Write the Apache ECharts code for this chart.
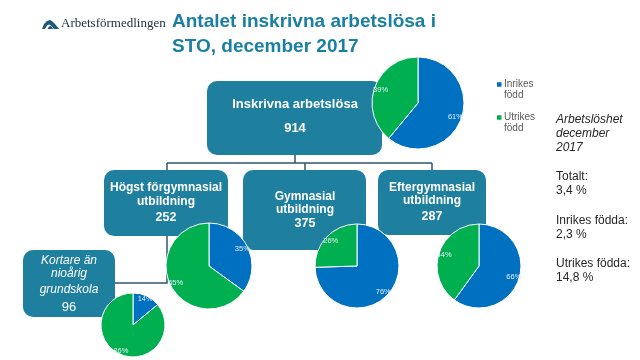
<!DOCTYPE html>
<html>
<head>
<meta charset="utf-8">
<script src="https://cdn.jsdelivr.net/npm/echarts@6/dist/echarts.min.js"></script>
<style>
html,body{margin:0;padding:0;background:#fff;}
#chart{width:640px;height:360px;}
</style>
</head>
<body>
<div id="chart"></div>
<script>
// ---- Data ----
const segmentNames = ['Inrikes född', 'Utrikes född'];
const groupLabels = ['Inskrivna arbetslösa', 'Högst förgymnasial\nutbildning', 'Gymnasial\nutbildning', 'Eftergymnasial\nutbildning', 'Kortare än\nnioårig', 'grundskola'];
const groupTotals = [914, 252, 375, 287, 96];
const inrikesPct = [61, 35, 76, 66, 14];
const utrikesPct = [39, 65, 26, 44, 86];
const titleLines = ['Antalet inskrivna arbetslösa i', 'STO, december 2017'];
const sideTitle = ['Arbetslöshet', 'december', '2017'];
const sideStats = [['Totalt:', '3,4 %'], ['Inrikes födda:', '2,3 %'], ['Utrikes födda:', '14,8 %']];

// ---- Layout ----
const BLUE = '#0070c0', GREEN = '#00b050', BOX = '#1e7f9f', LINE = '#2e5573';
const FONT = 'Liberation Sans, Arial, sans-serif';
const pies = [
  {c: [418, 103], r: 46},
  {c: [209, 266], r: 43},
  {c: [357, 266], r: 42},
  {c: [479, 266], r: 42},
  {c: [133, 325], r: 32}
];
const boxes = [
  {x: 207, y: 81, w: 175, h: 74},
  {x: 104, y: 170, w: 124, h: 66},
  {x: 243, y: 170, w: 123, h: 80},
  {x: 378, y: 170, w: 108, h: 65},
  {x: 23, y: 250, w: 92, h: 67}
];

const chart = echarts.init(document.getElementById('chart'));
const series = [];
pies.forEach((p, i) => {
  const data = [
    {name: segmentNames[0], value: inrikesPct[i], itemStyle: {color: BLUE}},
    {name: segmentNames[1], value: utrikesPct[i], itemStyle: {color: GREEN}}
  ];
  series.push({
    type: 'pie', center: p.c, radius: [0, p.r], startAngle: 90, clockwise: true,
    silent: true, animation: false, z: 3,
    itemStyle: {borderColor: '#fff', borderWidth: 1},
    label: {show: false}, labelLine: {show: false},
    data: data
  });
  series.push({
    type: 'pie', center: p.c, radius: [p.r * 0.6, p.r], startAngle: 90, clockwise: true,
    silent: true, animation: false, z: 4, legendHoverLink: false,
    itemStyle: {color: 'rgba(0,0,0,0)', borderWidth: 0},
    label: {show: true, position: 'inside', formatter: '{c}%', color: '#e6eef8', fontSize: 7.5, fontFamily: FONT},
    labelLine: {show: false},
    data: data.map(d => ({name: d.name, value: d.value, itemStyle: {color: 'rgba(0,0,0,0)'}}))
  });
});

const graphics = [];
// logo
graphics.push({type: 'polygon', shape: {points: [[42, 29], [44, 24], [47, 21], [50, 20], [52, 21], [55, 24], [59, 29], [54, 29], [51, 25.5], [49, 24.5], [47, 25.5], [45, 29]]}, style: {fill: '#1c5a78'}});
graphics.push({type: 'polygon', shape: {points: [[47.5, 29], [49, 26.5], [50.5, 26], [52, 27], [53, 29]]}, style: {fill: '#1c5a78'}});
graphics.push({type: 'text', x: 61, y: 24, style: {text: 'Arbetsförmedlingen', font: '13px Liberation Serif, Times New Roman, serif', fill: '#1b2b3a', textVerticalAlign: 'middle'}});
// title
titleLines.forEach((t, i) => {
  graphics.push({type: 'text', x: 172, y: 22 + i * 25, style: {text: t, font: 'bold 19px ' + FONT, fill: '#1a7fa5', textVerticalAlign: 'middle'}});
});
// connectors
const lineStyle = {stroke: LINE, lineWidth: 1.5, fill: null};
graphics.push({type: 'polyline', shape: {points: [[295, 155], [295, 163]]}, style: lineStyle});
graphics.push({type: 'polyline', shape: {points: [[167, 163], [432, 163]]}, style: lineStyle});
graphics.push({type: 'polyline', shape: {points: [[305, 163], [305, 170]]}, style: lineStyle});
graphics.push({type: 'polyline', shape: {points: [[432, 163], [432, 170]]}, style: lineStyle});
graphics.push({type: 'polyline', shape: {points: [[167, 163], [167, 283], [115, 283]]}, style: lineStyle});
// boxes
boxes.forEach(b => {
  graphics.push({type: 'rect', shape: {x: b.x, y: b.y, width: b.w, height: b.h, r: 10}, style: {fill: BOX}});
});
const boldTxt = (x, y, text, size, lh) => ({type: 'text', x: x, y: y, z: 1, style: {text: text, font: 'bold ' + size + 'px ' + FONT, fill: '#fff', textAlign: 'center', textVerticalAlign: 'middle', lineHeight: lh || size + 2}});
graphics.push(boldTxt(295, 104, groupLabels[0], 13));
graphics.push(boldTxt(295, 128, String(groupTotals[0]), 13));
graphics.push(boldTxt(166, 195, groupLabels[1], 12, 14));
graphics.push(boldTxt(166, 218, String(groupTotals[1]), 12.5));
graphics.push(boldTxt(305, 203, groupLabels[2], 12, 13));
graphics.push(boldTxt(305, 224, String(groupTotals[2]), 12.5));
graphics.push(boldTxt(432, 194.5, groupLabels[3], 12, 13));
graphics.push(boldTxt(432, 217, String(groupTotals[3]), 12.5));
graphics.push({type: 'text', x: 69, y: 267, z: 1, style: {text: groupLabels[4], font: 'italic 12px ' + FONT, fill: '#fff', textAlign: 'center', textVerticalAlign: 'middle', lineHeight: 12.5}});
graphics.push({type: 'text', x: 69, y: 290, z: 1, style: {text: groupLabels[5], font: 'italic 12px ' + FONT, fill: '#fff', textAlign: 'center', textVerticalAlign: 'middle'}});
graphics.push({type: 'text', x: 69, y: 307, z: 1, style: {text: String(groupTotals[4]), font: '13px ' + FONT, fill: '#fff', textAlign: 'center', textVerticalAlign: 'middle'}});
// side text
graphics.push({type: 'text', x: 556, y: 134, style: {text: sideTitle.join('\n'), font: 'italic 12px ' + FONT, fill: '#262626', textVerticalAlign: 'middle', lineHeight: 14}});
const statY = [184, 228, 270.5];
sideStats.forEach((s, i) => {
  graphics.push({type: 'text', x: 556, y: statY[i], style: {text: s.join('\n'), font: '12px ' + FONT, fill: '#262626', textVerticalAlign: 'middle', lineHeight: 14}});
});

chart.setOption({
  animation: false,
  legend: {
    data: segmentNames, orient: 'vertical', left: 497, top: 78.5, padding: 0,
    icon: 'path://M0,0v0.1M0,6h10v10h-10zM0,43.9v0.1', itemWidth: 4.5, itemHeight: 22, itemGap: 11, selectedMode: false,
    itemStyle: {borderWidth: 0},
    formatter: n => n.replace(' ', '\n'),
    textStyle: {fontSize: 10, lineHeight: 11, color: '#595959', fontFamily: FONT, padding: [0, 0, 0, -2.5]}
  },
  graphic: graphics,
  series: series
});
</script>
</body>
</html>
